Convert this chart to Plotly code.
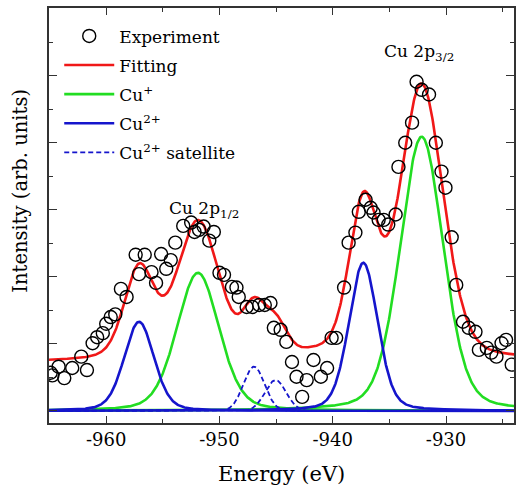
import numpy as np
import plotly.graph_objects as go

# ---------------- data ----------------
exp_energy = [-964.9, -964.75, -964.2, -963.7, -963.0, -962.2, -961.7,
              -961.2, -960.8, -960.3, -960.0, -959.6, -959.2, -958.7, -958.2,
              -957.4, -957.1, -956.6, -956.0, -955.6, -955.15, -954.7, -954.3,
              -953.9, -953.2, -952.5, -952.2, -951.8, -951.4, -950.9, -950.5,
              -950.0, -949.6, -948.9, -948.5, -948.3, -947.6, -947.1, -946.5,
              -946.0, -945.5, -945.2, -944.6, -944.1, -943.6, -943.2, -942.7,
              -942.3, -941.7, -941.05, -940.5, -940.1, -939.7, -939.0, -938.6,
              -938.0, -937.7, -937.1, -936.65, -936.4, -935.95, -935.5, -935.1,
              -934.45, -934.2, -933.6, -933.0, -932.6, -932.15, -931.5, -930.9,
              -930.4, -930.05, -929.5, -929.1, -928.5, -928.0, -927.4, -927.1,
              -926.4, -926.0, -925.55, -925.1, -924.7, -924.2]
exp_intensity = [0.57, 0.53, 0.66, 0.49, 0.64, 0.81, 0.61,
                 1.01, 1.10, 1.16, 1.30, 1.40, 1.44, 1.82, 1.70,
                 2.33, 2.04, 2.33, 2.07, 1.91, 2.34, 2.12, 2.25,
                 2.51, 2.76, 2.81, 2.67, 2.70, 2.75, 2.54, 2.67,
                 2.06, 2.03, 1.85, 1.84, 1.70, 1.55, 1.55, 1.58,
                 1.58, 1.61, 1.24, 1.21, 1.03, 0.73, 0.51, 0.21,
                 0.46, 0.76, 0.51, 0.64, 1.09, 1.09, 1.84, 2.51,
                 2.66, 2.97, 3.15, 3.03, 2.96, 2.85, 2.85, 2.78,
                 2.93, 3.64, 4.00, 4.30, 4.91, 4.79, 4.72, 4.00,
                 3.57, 3.33, 2.59, 1.88, 1.33, 1.24, 1.18, 0.91,
                 0.94, 0.87, 0.81, 1.01, 1.06, 0.69]

# fitted components (Cu 2p1/2, Cu 2p3/2)
cu1_center = [-951.9, -932.15]
cu1_height = [2.06, 4.09]
cu1_fwhm = [4.4, 4.5]
cu2_center = [-957.1, -937.3]
cu2_height = [1.33, 2.21]
cu2_fwhm = [3.1, 3.0]
sat_center = [-946.95, -945.05]
sat_height = [0.66, 0.46]
sat_fwhm = [2.2, 2.2]
lorentz_fraction = 0.25

# background levels under the fit
bg_energy = [-965, -957, -952, -948, -942, -937, -932, -924]
bg_level = [0.73, 0.75, 0.74, 0.80, 0.82, 0.80, 0.74, 0.76]

x_tickvals = [-960, -950, -940, -930]
x_ticktext = ["-960", "-950", "-940", "-930"]

# ---------------- model curves ----------------
E = np.linspace(-965.5, -923.5, 900)


def pvoigt(x, c, h, w, eta):
    s = w / 2.3548
    g = np.exp(-0.5 * ((x - c) / s) ** 2)
    l = 1.0 / (1.0 + ((x - c) / (w / 2)) ** 2)
    return h * ((1 - eta) * g + eta * l)


cu1 = [pvoigt(E, c, h, w, lorentz_fraction) for c, h, w in zip(cu1_center, cu1_height, cu1_fwhm)]
cu2 = [pvoigt(E, c, h, w, lorentz_fraction) for c, h, w in zip(cu2_center, cu2_height, cu2_fwhm)]
sat = [pvoigt(E, c, h, w, 0.0) for c, h, w in zip(sat_center, sat_height, sat_fwhm)]
bg = np.interp(E, bg_energy, bg_level)
fit = bg + sum(cu1) + sum(cu2) + sum(sat)

RED = "#f01818"
GREEN = "#22dd22"
BLUE = "#1515cc"
FONT = "DejaVu Serif"

fig = go.Figure()
fig.add_trace(go.Scatter(x=E, y=fit, mode="lines", name="Fitting",
                         line=dict(color=RED, width=2.6), legendrank=2, legendgroup="b"))
for i, y in enumerate(cu1):
    fig.add_trace(go.Scatter(x=E, y=y, mode="lines", name="Cu<sup>+</sup>",
                             line=dict(color=GREEN, width=2.6), legendrank=3,
                             legendgroup="c", showlegend=(i == 0)))
for i, y in enumerate(cu2):
    fig.add_trace(go.Scatter(x=E, y=y, mode="lines", name="Cu<sup>2+</sup>",
                             line=dict(color=BLUE, width=2.6), legendrank=4,
                             legendgroup="d", showlegend=(i == 0)))
for i, y in enumerate(sat):
    fig.add_trace(go.Scatter(x=E, y=y, mode="lines", name="Cu<sup>2+</sup> satellite",
                             line=dict(color=BLUE, width=1.8, dash="5px,3px"), legendrank=5,
                             legendgroup="e", showlegend=(i == 0)))
fig.add_trace(go.Scatter(x=exp_energy, y=exp_intensity, mode="markers", name="Experiment",
                         marker=dict(symbol="circle-open", size=13, color="black",
                                     line=dict(width=1.4, color="black")),
                         legendrank=1, legendgroup="a"))

axis_common = dict(showline=True, linecolor="#333", linewidth=1.6, mirror="ticks",
                   ticks="inside", tickcolor="#333", tickwidth=1.4, showgrid=False,
                   zeroline=False)
fig.update_xaxes(range=[-965.05, -924.0], tickvals=x_tickvals, ticktext=x_ticktext,
                 ticklen=7, tickfont=dict(family=FONT, size=18, color="black"),
                 minor=dict(dtick=5, ticklen=4, ticks="inside", tickcolor="#333", tickwidth=1.4),
                 **axis_common)
fig.update_yaxes(range=[-0.18, 6.01], dtick=1, showticklabels=False, ticklen=8,
                 minor=dict(dtick=0.5, ticklen=4, ticks="inside", tickcolor="#333", tickwidth=1.4),
                 **axis_common)

fig.update_layout(
    width=519, height=485,
    margin=dict(l=49, r=3, t=8, b=62),
    plot_bgcolor="white", paper_bgcolor="white",
    font=dict(family=FONT, color="black"),
    legend=dict(x=0.022, y=0.975, xanchor="left", yanchor="top",
                font=dict(family=FONT, size=17, color="black"),
                bgcolor="rgba(0,0,0,0)", itemwidth=50, tracegroupgap=4),
    annotations=[
        dict(text="Intensity (arb. units)", textangle=-90, x=-0.06, y=0.56,
             xref="paper", yref="paper", showarrow=False,
             xanchor="center", yanchor="middle",
             font=dict(family=FONT, size=19.5, color="black")),
        dict(text="Energy (eV)", x=0.5, y=-0.09, xref="paper", yref="paper",
             showarrow=False, xanchor="center", yanchor="top",
             font=dict(family=FONT, size=21, color="black")),
        dict(text="Cu 2p<sub>1/2</sub>", x=cu1_center[0] + 0.5, y=2.8, xref="x", yref="y",
             showarrow=False, xanchor="center", yanchor="bottom",
             font=dict(family=FONT, size=17, color="black")),
        dict(text="Cu 2p<sub>3/2</sub>", x=cu1_center[1] - 0.2, y=5.14, xref="x", yref="y",
             showarrow=False, xanchor="center", yanchor="bottom",
             font=dict(family=FONT, size=17, color="black")),
    ],
)

fig.write_html("out.html")
